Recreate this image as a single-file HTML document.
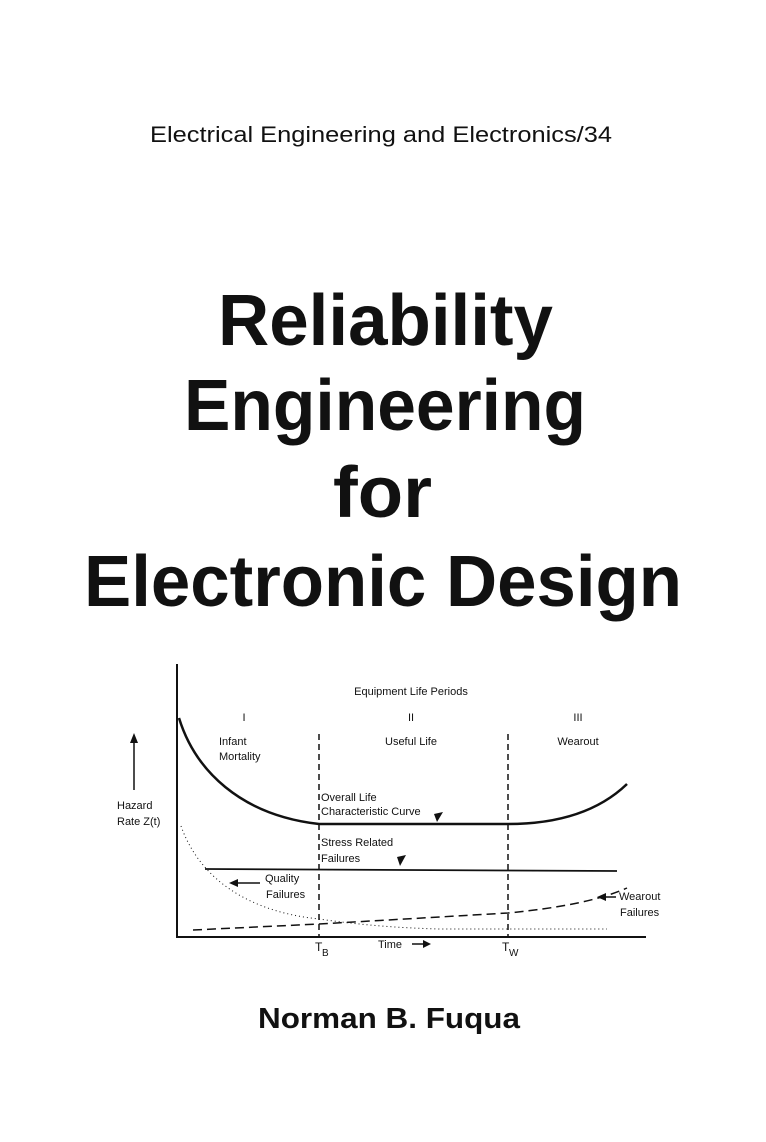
<!DOCTYPE html>
<html><head><meta charset="utf-8"><style>
html,body{margin:0;padding:0;background:#fff;}
svg{display:block}
</style></head><body>
<svg width="766" height="1142" viewBox="0 0 766 1142" xmlns="http://www.w3.org/2000/svg" font-family="Liberation Sans, sans-serif">
<rect width="766" height="1142" fill="#fff"/>
<text x="150" y="142" font-size="22" textLength="462" lengthAdjust="spacingAndGlyphs" fill="#111">Electrical Engineering and Electronics/34</text>
<g font-weight="bold" fill="#111" font-size="72">
<text x="218" y="345" textLength="335" lengthAdjust="spacingAndGlyphs">Reliability</text>
<text x="184" y="430" textLength="402" lengthAdjust="spacingAndGlyphs">Engineering</text>
<text x="333" y="517" textLength="99" lengthAdjust="spacingAndGlyphs">for</text>
<text x="84" y="606" textLength="598" lengthAdjust="spacingAndGlyphs">Electronic Design</text>
</g>
<text x="258" y="1028" font-size="29" font-weight="bold" textLength="262" lengthAdjust="spacingAndGlyphs" fill="#111">Norman B. Fuqua</text>

<g stroke="#111" fill="none">
<line x1="177" y1="664" x2="177" y2="938" stroke-width="2"/>
<line x1="176" y1="937" x2="646" y2="937" stroke-width="2"/>
<line x1="319" y1="734" x2="319" y2="937" stroke-width="1.5" stroke-dasharray="6,4"/>
<line x1="508" y1="734" x2="508" y2="937" stroke-width="1.5" stroke-dasharray="6,4"/>
<path d="M179,718 C195,770 240,815 319,824 L508,824 C560,824 600,810 627,784" stroke-width="2.5"/>
<line x1="205" y1="869" x2="617" y2="871" stroke-width="1.8"/>
<path d="M181,826 C200,880 250,912 319,919 C360,925 400,928 440,929 L607,929" stroke-width="1" stroke-dasharray="1,3"/>
<path d="M193,930 L319,924 L508,913 C560,908 600,900 627,888" stroke-width="1.5" stroke-dasharray="9,5"/>
<line x1="134" y1="790" x2="134" y2="740" stroke-width="1.5"/>
<line x1="260" y1="883" x2="236" y2="883" stroke-width="1.5"/>
<line x1="616" y1="897" x2="604" y2="897" stroke-width="1.5"/>
<line x1="412" y1="944" x2="424" y2="944" stroke-width="1.5"/>
</g>
<g fill="#111">
<polygon points="134,733 130,743 138,743"/>
<polygon points="229,883 238,879 238,887"/>
<polygon points="597,897 606,893 606,901"/>
<polygon points="431,944 423,940 423,948"/>
<path d="M434,814 L443,812 L437,822 Z"/>
<path d="M397,857 L406,855 L400,866 Z"/>
</g>
<g font-size="11" fill="#111">
<text x="411" y="695" text-anchor="middle">Equipment Life Periods</text>
<text x="244" y="721" text-anchor="middle">I</text>
<text x="411" y="721" text-anchor="middle">II</text>
<text x="578" y="721" text-anchor="middle">III</text>
<text x="219" y="745">Infant</text>
<text x="219" y="760">Mortality</text>
<text x="411" y="745" text-anchor="middle">Useful Life</text>
<text x="578" y="745" text-anchor="middle">Wearout</text>
<text x="117" y="809">Hazard</text>
<text x="117" y="825">Rate Z(t)</text>
<text x="321" y="801">Overall Life</text>
<text x="321" y="815">Characteristic Curve</text>
<text x="321" y="846">Stress Related</text>
<text x="321" y="862">Failures</text>
<text x="265" y="882">Quality</text>
<text x="266" y="898">Failures</text>
<text x="619" y="900">Wearout</text>
<text x="620" y="916">Failures</text>
<text x="315" y="951" font-size="12">T</text><text x="322" y="956" font-size="10">B</text>
<text x="378" y="948">Time</text>
<text x="502" y="951" font-size="12">T</text><text x="509" y="956" font-size="10">W</text>
</g>
</svg>
</body></html>
